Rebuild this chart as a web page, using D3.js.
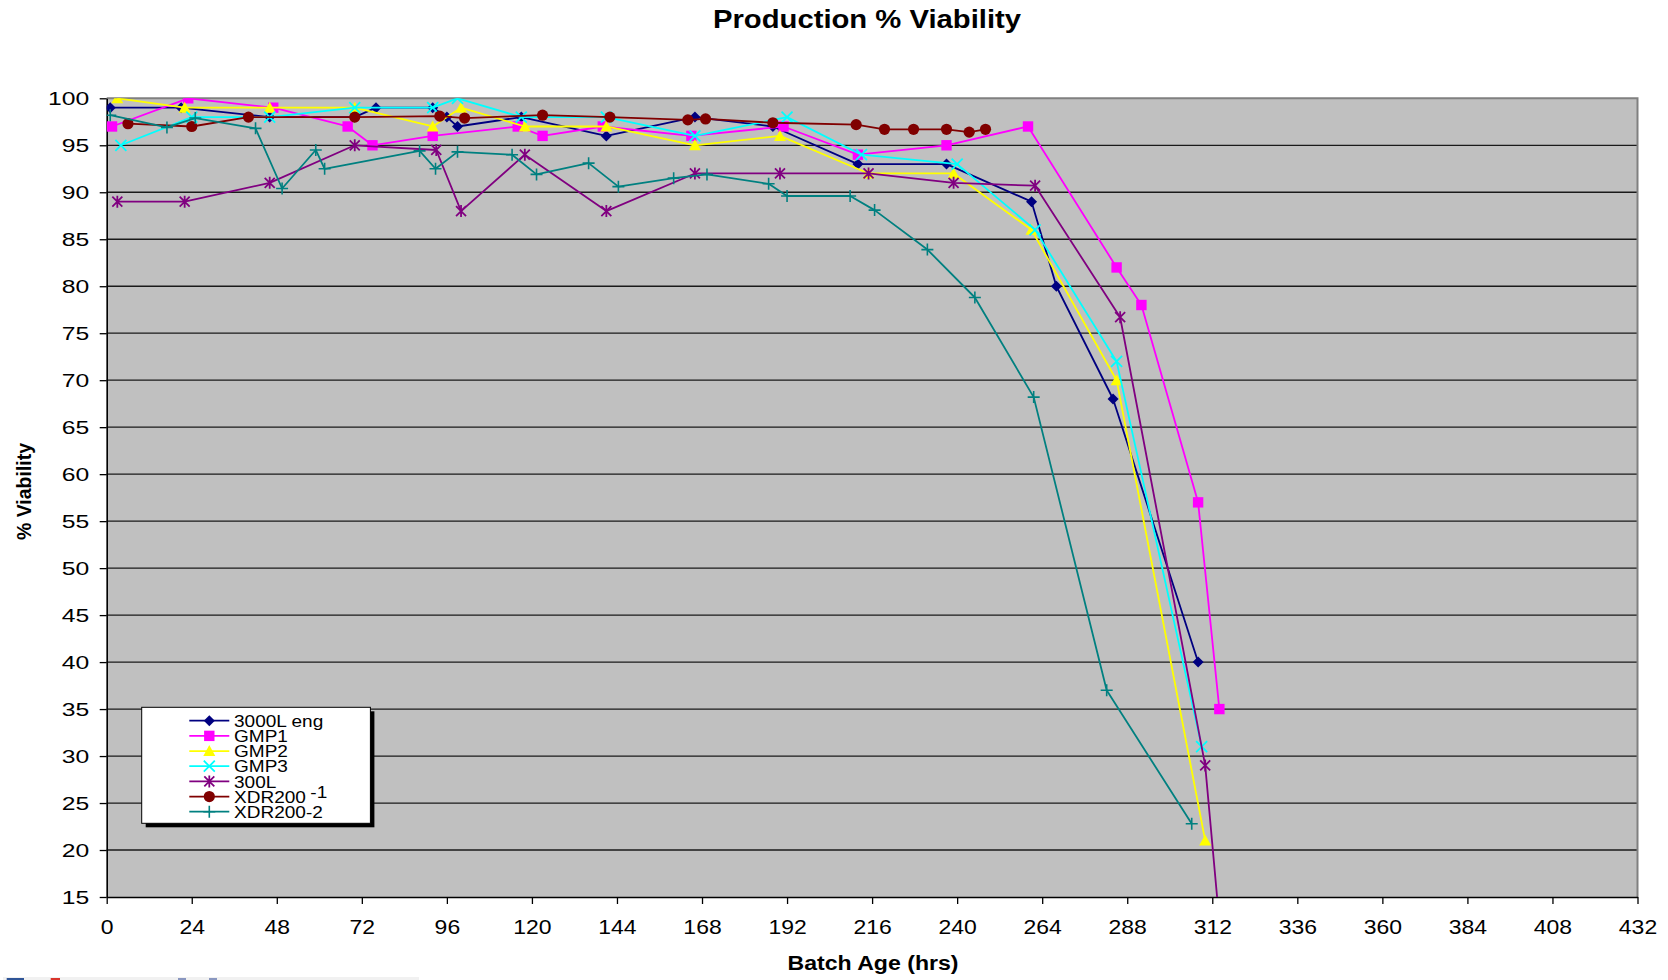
<!DOCTYPE html>
<html>
<head>
<meta charset="utf-8">
<script src="https://cdn.jsdelivr.net/npm/d3@7/dist/d3.min.js"></script>
<style>
  html, body { margin: 0; padding: 0; background: #fff; }
  svg { display: block; font-family: "Liberation Sans", Arial, sans-serif; }
</style>
</head>
<body>
<svg id="chart" width="1668" height="980"></svg>
<script>
// Batch age (hrs) and % viability for each production run
const seriesNames = ["3000L eng", "GMP1", "GMP2", "GMP3", "300L", "XDR200-1", "XDR200-2"];

const eng3000Hours = [1, 21, 46, 70, 76, 92, 96, 99, 117, 141, 166, 188, 212, 237, 261, 268, 284, 308];
const eng3000Viab  = [99, 99, 98, 98, 99, 99, 98, 97, 98, 96, 98, 97, 93, 93, 89, 80, 68, 40];

const gmp1Hours = [1.5, 23, 47, 68, 75, 92, 116, 123, 140, 165, 191, 212, 237, 260, 285, 292, 308, 314];
const gmp1Viab  = [97, 100, 99, 97, 95, 96, 97, 96, 97, 96, 97, 94, 95, 97, 82, 78, 57, 35];

const gmp2Hours = [3, 22, 46, 70, 92, 100, 118, 141, 166, 190, 215, 239, 261, 285, 310];
const gmp2Viab  = [100, 99, 99, 99, 97, 99, 97, 97, 95, 96, 92, 92, 86, 70, 21];

const gmp3Hours = [4, 24, 46, 70, 92, 99, 117, 141, 166, 192, 213, 240, 262, 285, 309];
const gmp3Viab  = [95, 98, 98, 99, 99, 100, 98, 98, 96, 98, 94, 93, 86, 72, 31];

const l300Hours = [3, 22, 46, 70, 93, 100, 118, 141, 166, 190, 215, 239, 262, 286, 310, 316];
const l300Viab  = [89, 89, 91, 95, 94.5, 88, 94, 88, 92, 92, 92, 91, 90.7, 76.7, 29, 4];

const xdr1Hours = [6, 24, 40, 70, 94, 101, 123, 142, 164, 169, 188, 211.5, 219.5, 227.7, 237, 243.4, 248];
const xdr1Viab  = [97.3, 97, 98, 98, 98.1, 97.9, 98.2, 98, 97.7, 97.8, 97.4, 97.2, 96.7, 96.7, 96.7, 96.4, 96.7];

const xdr2Hours = [1, 17, 25, 42, 49.5, 59, 61.5, 88.3, 92.8, 99, 114.4, 121.3, 136, 144.4, 160, 169.4, 186.8, 192, 209.8, 216.7, 231.6, 245, 261.6, 282.2, 306.2];
const xdr2Viab  = [98.2, 96.9, 97.9, 96.8, 90.4, 94.5, 92.5, 94.4, 92.5, 94.3, 94, 91.9, 93.1, 90.6, 91.5, 91.9, 90.9, 89.6, 89.6, 88.1, 83.9, 78.8, 68.2, 37, 22.8];

const xTicks = [0, 24, 48, 72, 96, 120, 144, 168, 192, 216, 240, 264, 288, 312, 336, 360, 384, 408, 432];
const yTicks = [15, 20, 25, 30, 35, 40, 45, 50, 55, 60, 65, 70, 75, 80, 85, 90, 95, 100];

const seriesColors = ["#000080", "#FF00FF", "#FFFF00", "#00FFFF", "#800080", "#800000", "#008080"];
const seriesMarkers = ["diamond", "square", "triangle", "x", "star", "circle", "plus"];

const seriesData = [
  [eng3000Hours, eng3000Viab], [gmp1Hours, gmp1Viab], [gmp2Hours, gmp2Viab],
  [gmp3Hours, gmp3Viab], [l300Hours, l300Viab], [xdr1Hours, xdr1Viab], [xdr2Hours, xdr2Viab]
].map(([h, v], i) => ({
  name: seriesNames[i], color: seriesColors[i], marker: seriesMarkers[i],
  points: h.map((hr, j) => ({ hr, v: v[j] }))
}));

const svg = d3.select("#chart");
const plot = { left: 106.7, right: 1637.5, top: 98.3, bottom: 897 };

const x = d3.scaleLinear().domain([0, 432]).range([plot.left, plot.right]);
const y = d3.scaleLinear().domain([15, 100]).range([plot.bottom, plot.top]);

// Plot background
svg.append("rect")
  .attr("x", plot.left).attr("y", plot.top)
  .attr("width", plot.right - plot.left).attr("height", plot.bottom - plot.top)
  .attr("fill", "#C0C0C0");

// Horizontal gridlines
svg.append("g").selectAll("line")
  .data(yTicks.filter(t => t > 15 && t < 100))
  .join("line")
  .attr("x1", plot.left).attr("x2", plot.right)
  .attr("y1", d => y(d)).attr("y2", d => y(d))
  .attr("stroke", "#1a1a1a").attr("stroke-width", 1.3);

// Top and right frame
svg.append("path")
  .attr("d", `M${plot.left},${plot.top}H${plot.right}V${plot.bottom}`)
  .attr("fill", "none").attr("stroke", "#808080").attr("stroke-width", 2);

// Axes
const yAxis = svg.append("g")
  .attr("transform", `translate(${plot.left},0)`)
  .call(d3.axisLeft(y).tickValues(yTicks).tickSize(7).tickSizeOuter(0));
yAxis.select(".domain").attr("stroke", "#000").attr("stroke-width", 1.6);
yAxis.selectAll(".tick line").attr("stroke", "#000").attr("stroke-width", 1.3);
yAxis.selectAll(".tick text")
  .attr("x", null).attr("dy", "0.35em")
  .attr("transform", "translate(-17.5,0) scale(1.3,1)")
  .attr("font-size", 19).attr("fill", "#000")
  .attr("font-family", "'Liberation Sans', Arial, sans-serif");

const xAxis = svg.append("g")
  .attr("transform", `translate(0,${plot.bottom})`)
  .call(d3.axisBottom(x).tickValues(xTicks).tickSize(7).tickSizeOuter(0));
xAxis.select(".domain").attr("stroke", "#000").attr("stroke-width", 1.6);
xAxis.selectAll(".tick line").attr("stroke", "#000").attr("stroke-width", 1.3);
xAxis.selectAll(".tick text")
  .attr("y", 0).attr("dy", 0)
  .attr("transform", "translate(0,37) scale(1.12,1)")
  .attr("font-size", 20.5).attr("fill", "#000")
  .attr("font-family", "'Liberation Sans', Arial, sans-serif");

// Clip series to the plot area
svg.append("defs").append("clipPath").attr("id", "plotClip")
  .append("rect")
  .attr("x", plot.left).attr("y", plot.top)
  .attr("width", plot.right - plot.left).attr("height", plot.bottom - plot.top);

function drawMarker(g, type, color) {
  const s = 5.5;
  switch (type) {
    case "diamond":
      g.append("path").attr("d", `M0,${-s}L${s},0L0,${s}L${-s},0Z`).attr("fill", color);
      break;
    case "square":
      g.append("rect").attr("x", -5.2).attr("y", -5.2).attr("width", 10.4).attr("height", 10.4).attr("fill", color);
      break;
    case "triangle":
      g.append("path").attr("d", `M0,-6L6,5L-6,5Z`).attr("fill", color);
      break;
    case "x":
      g.append("path").attr("d", `M-5.5,-5.5L5.5,5.5M-5.5,5.5L5.5,-5.5`).attr("stroke", color).attr("stroke-width", 1.8).attr("fill", "none");
      break;
    case "star":
      g.append("path").attr("d", `M-5,-5L5,5M-5,5L5,-5M0,-6V6`).attr("stroke", color).attr("stroke-width", 1.8).attr("fill", "none");
      break;
    case "circle":
      g.append("circle").attr("r", 5.6).attr("fill", color);
      break;
    case "plus":
      g.append("path").attr("d", `M-6,0H6M0,-6V6`).attr("stroke", color).attr("stroke-width", 1.6).attr("fill", "none");
      break;
  }
}

const line = d3.line().x(d => x(d.hr)).y(d => y(d.v));
const seriesLayer = svg.append("g").attr("clip-path", "url(#plotClip)");

seriesData.forEach(s => {
  const g = seriesLayer.append("g");
  g.append("path").datum(s.points)
    .attr("d", line).attr("fill", "none")
    .attr("stroke", s.color).attr("stroke-width", 1.8).attr("stroke-linejoin", "round");
  g.selectAll("g.pt").data(s.points).join("g")
    .attr("class", "pt")
    .attr("transform", d => `translate(${x(d.hr)},${y(d.v)})`)
    .each(function () { drawMarker(d3.select(this), s.marker, s.color); });
});

// Legend
const legend = svg.append("g");
legend.append("rect").attr("x", 145.7).attr("y", 711.3).attr("width", 228.7).attr("height", 116).attr("fill", "#000");
legend.append("rect").attr("x", 141.7).attr("y", 707.3).attr("width", 228.7).attr("height", 116)
  .attr("fill", "#fff").attr("stroke", "#000").attr("stroke-width", 1);

seriesData.forEach((s, i) => {
  const cy = 720.7 + i * 15.17;
  const row = legend.append("g").attr("transform", `translate(0,${cy})`);
  row.append("line").attr("x1", 189.3).attr("x2", 229.3).attr("y1", 0).attr("y2", 0)
    .attr("stroke", s.color).attr("stroke-width", 1.8);
  const m = row.append("g").attr("transform", "translate(209.3,0)");
  drawMarker(m, s.marker, s.color);
  const t = row.append("text")
    .attr("transform", "translate(234,6.2) scale(1.12,1)")
    .attr("font-size", 17).attr("fill", "#000");
  if (s.name === "XDR200-1") {
    t.append("tspan").text("XDR200");
    t.append("tspan").attr("dx", 4).attr("dy", -5).text("-1");
  } else {
    t.text(s.name);
  }
});

// Title and axis titles
svg.append("text")
  .attr("transform", "translate(867,28) scale(1.17,1)")
  .attr("text-anchor", "middle").attr("font-size", 25).attr("font-weight", "bold")
  .attr("fill", "#000").text("Production % Viability");

svg.append("text")
  .attr("transform", "translate(873,970) scale(1.1,1)")
  .attr("text-anchor", "middle").attr("font-size", 21).attr("font-weight", "bold")
  .attr("fill", "#000").text("Batch Age (hrs)");

svg.append("text")
  .attr("transform", "translate(31,491.5) rotate(-90)")
  .attr("text-anchor", "middle").attr("font-size", 19.5).attr("font-weight", "bold")
  .attr("fill", "#000").text("% Viability");

// Page footer strip
const footer = svg.append("g");
footer.append("rect").attr("x", 3).attr("y", 977).attr("width", 416).attr("height", 3).attr("fill", "#f1f1f1");
footer.append("rect").attr("x", 6.7).attr("y", 978).attr("width", 17.3).attr("height", 2).attr("fill", "#2f5597");
footer.append("rect").attr("x", 50.7).attr("y", 978).attr("width", 9.3).attr("height", 2).attr("fill", "#d9342b");
footer.append("rect").attr("x", 178).attr("y", 978).attr("width", 8).attr("height", 2).attr("fill", "#8a97c0");
footer.append("rect").attr("x", 209).attr("y", 978).attr("width", 8).attr("height", 2).attr("fill", "#8a97c0");
</script>
</body>
</html>
